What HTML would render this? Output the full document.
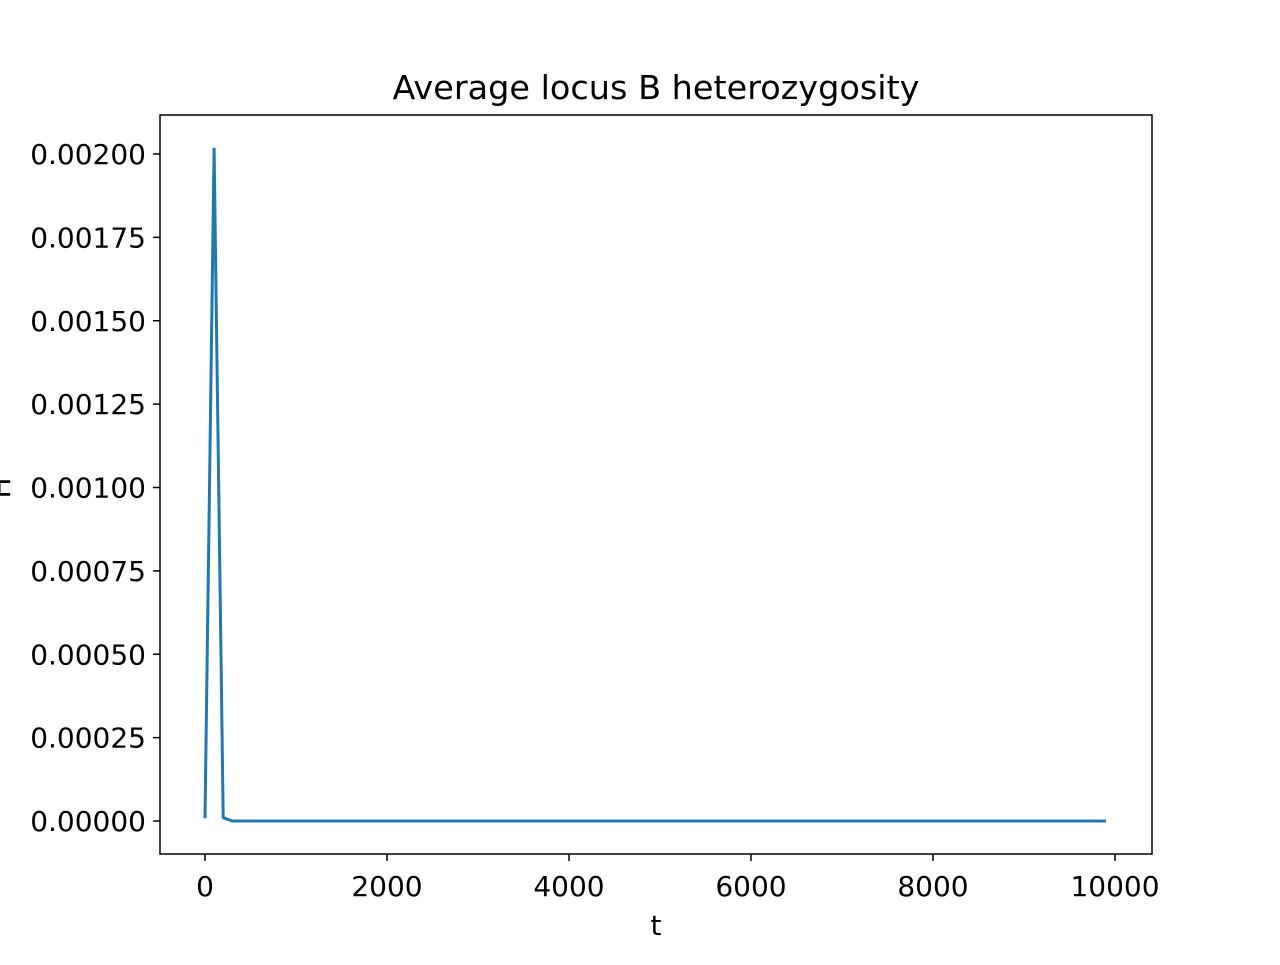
<!DOCTYPE html>
<html><head><meta charset="utf-8"><style>
body{margin:0;background:#fff;}
svg text{font-family:"DejaVu Sans","Liberation Sans",sans-serif;fill:#000;}
</style></head><body>
<svg id="chart" width="1280" height="960" xmlns="http://www.w3.org/2000/svg">
<rect width="1280" height="960" fill="#fff"/>
<text x="656" y="99" font-size="33" text-anchor="middle" textLength="527" lengthAdjust="spacingAndGlyphs">Average locus B heterozygosity</text>
<text x="656" y="935" font-size="28" text-anchor="middle">t</text>
<text transform="translate(10,488) rotate(-90)" font-size="28" text-anchor="middle">H</text>
<g id="ticks"></g>
<polyline id="series" fill="none" stroke="#1f77b4" stroke-width="3" stroke-linejoin="round"/>
<rect x="160" y="115" width="992" height="739" fill="none" stroke="#000" stroke-width="1.5"/>
</svg>
<script>
const tValues = [];
for (let t = 0; t <= 9900; t += 100) tValues.push(t);
const hHead = [0.000008, 0.002015, 0.00001];
const xTicks = [0, 2000, 4000, 6000, 8000, 10000];
const yTicks = [0, 0.00025, 0.0005, 0.00075, 0.001, 0.00125, 0.0015, 0.00175, 0.002];
const yTickLabels = ["0.00000","0.00025","0.00050","0.00075","0.00100","0.00125","0.00150","0.00175","0.00200"];
const hValues = tValues.map((t, i) => i < hHead.length ? hHead[i] : 0);
const xs = v => 205 + v * (910 / 10000);
const ys = v => 821 - v * (667 / 0.002);
const NS = "http://www.w3.org/2000/svg";
const g = document.getElementById('ticks');
xTicks.forEach(v => {
  const l = document.createElementNS(NS, 'line');
  
  
  l.setAttribute('x1', xs(v)); l.setAttribute('x2', xs(v));
  l.setAttribute('y1', 854); l.setAttribute('y2', 861);
  l.setAttribute('stroke', '#000'); l.setAttribute('stroke-width', '1.5');
  g.appendChild(l);
  const tx = document.createElementNS(NS, 'text');
  
  
  tx.setAttribute('x', xs(v)); tx.setAttribute('y', 896);
  tx.setAttribute('font-size', '28'); tx.setAttribute('text-anchor', 'middle');
  tx.textContent = String(v);
  g.appendChild(tx);
});
yTicks.forEach((v, i) => {
  const l = document.createElementNS(NS, 'line');
  
  
  l.setAttribute('x1', 153); l.setAttribute('x2', 160);
  l.setAttribute('y1', ys(v)); l.setAttribute('y2', ys(v));
  l.setAttribute('stroke', '#000'); l.setAttribute('stroke-width', '1.5');
  g.appendChild(l);
  const tx = document.createElementNS(NS, 'text');
  
  
  tx.setAttribute('x', 146); tx.setAttribute('y', ys(v) + 10);
  tx.setAttribute('font-size', '28'); tx.setAttribute('text-anchor', 'end');
  tx.textContent = yTickLabels[i];
  g.appendChild(tx);
});
document.getElementById('series').setAttribute('points',
  tValues.map((t, i) => xs(t) + ',' + ys(hValues[i])).join(' '));
</script>
</body></html>
